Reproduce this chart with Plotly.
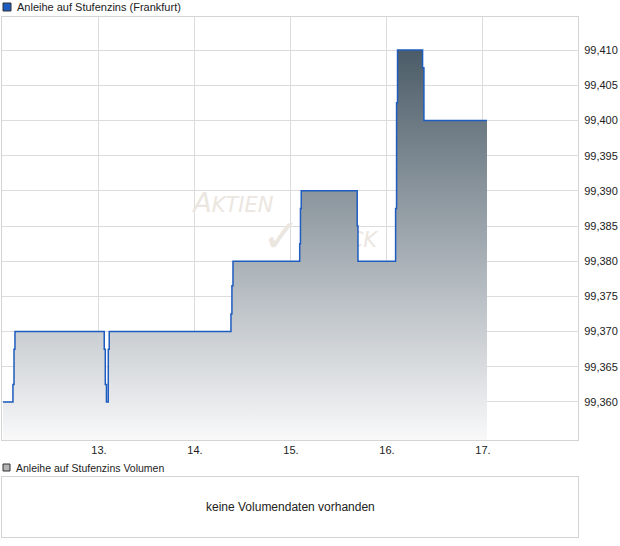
import plotly.graph_objects as go

W, H = 620, 546

# Kursverlauf (Tag als Dezimalzahl, Kurs)
days = [12.00, 12.104, 12.115, 12.125, 13.055, 13.066, 13.078, 13.097, 13.107,
        14.375, 14.385, 14.396, 15.091, 15.099, 15.107, 15.690, 15.698,
        16.090, 16.100, 16.110, 16.371, 16.385, 17.042]
prices = [99.360, 99.3625, 99.3675, 99.370, 99.3675, 99.3625, 99.360, 99.3675, 99.370,
          99.3725, 99.3765, 99.380, 99.3825, 99.3875, 99.390, 99.385, 99.380,
          99.3875, 99.4025, 99.410, 99.4075, 99.400, 99.400]

tick_days = [13, 14, 15, 16, 17]
tick_labels = ["13.", "14.", "15.", "16.", "17."]
price_ticks = [99.360, 99.365, 99.370, 99.375, 99.380, 99.385,
               99.390, 99.395, 99.400, 99.405, 99.410]

y_min, y_max = 99.3546, 99.4147
x_min, x_max = 11.99, 17.99

FONT = "Liberation Sans, Arial, sans-serif"


def px_x(p):
    return p / W


def px_y(p):
    return 1 - p / H


fig = go.Figure()

# Wasserzeichen (unter der Fläche)
fig.add_trace(go.Scatter(
    x=[14.40, 14.90, 15.50], y=[99.3880, 99.3830, 99.3830],
    mode="text",
    text=["<i>A<span style='font-size:21px'>KTIEN</span></i>", "✓",
          "<i>C<span style='font-size:21px'>HECK</span></i>"],
    textfont=dict(family="DejaVu Sans, sans-serif", size=[27, 46, 27],
                  color="#ebe6e0"),
    hoverinfo="skip", showlegend=False,
))

fig.add_trace(go.Scatter(
    x=days, y=prices,
    mode="lines", line=dict(color="#1f5cc0", width=1.5, shape="hv"),
    fill="tozeroy",
    fillgradient=dict(type="vertical",
                      colorscale=[[0, "#f9f9fa"], [1, "#4b5c68"]],
                      start=y_min, stop=99.410),
    showlegend=False,
))

# leeres Volumen-Panel
fig.add_trace(go.Scatter(
    x=[None], y=[None], xaxis="x2", yaxis="y2",
    mode="lines", hoverinfo="skip", showlegend=False,
))

fig.update_layout(
    width=W, height=H,
    margin=dict(l=0, r=0, t=0, b=0),
    paper_bgcolor="white", plot_bgcolor="white",
    separators=",.",
    font=dict(family=FONT, size=11, color="#222"),
    showlegend=False,
    xaxis=dict(
        domain=[px_x(2), px_x(578)], range=[x_min, x_max],
        tickvals=tick_days, ticktext=tick_labels,
        showgrid=True, gridcolor="#dcdcdc", gridwidth=1,
        showline=True, linecolor="#d4d4d4", mirror=True,
        zeroline=False, ticks="", automargin=False,
        tickfont=dict(size=11, color="#222"),
    ),
    yaxis=dict(
        domain=[px_y(440), px_y(17)], range=[y_min, y_max],
        side="right", tickvals=price_ticks, tickformat=".3f",
        showgrid=True, gridcolor="#dcdcdc", gridwidth=1,
        showline=True, linecolor="#d4d4d4", mirror=True,
        zeroline=False, ticks="", automargin=False,
        ticklabelstandoff=3,
        tickfont=dict(size=11, color="#222"),
    ),
    xaxis2=dict(
        domain=[px_x(2), px_x(578)], range=[0, 1], anchor="y2",
        showgrid=False, showticklabels=False, zeroline=False,
        showline=True, linecolor="#d4d4d4", mirror=True, fixedrange=True,
    ),
    yaxis2=dict(
        domain=[px_y(537), px_y(477)], range=[0, 1], anchor="x2",
        showgrid=False, showticklabels=False, zeroline=False,
        showline=True, linecolor="#d4d4d4", mirror=True, fixedrange=True,
    ),
)

# Legenden-Kästchen
fig.add_shape(type="rect", xref="paper", yref="paper",
              x0=px_x(3), x1=px_x(11), y0=px_y(11), y1=px_y(3),
              fillcolor="#1f5cc0", line=dict(color="#333", width=1))
fig.add_shape(type="rect", xref="paper", yref="paper",
              x0=px_x(3), x1=px_x(10), y0=px_y(471), y1=px_y(464),
              fillcolor="#b4b4b4", line=dict(color="#333", width=1))

fig.add_annotation(text="Anleihe auf Stufenzins (Frankfurt)",
                   xref="paper", yref="paper", x=px_x(15), y=px_y(7),
                   xanchor="left", yanchor="middle", showarrow=False,
                   font=dict(size=11, color="#222"))
fig.add_annotation(text="Anleihe auf Stufenzins Volumen",
                   xref="paper", yref="paper", x=px_x(14), y=px_y(468),
                   xanchor="left", yanchor="middle", showarrow=False,
                   font=dict(size=10.5, color="#222"))
fig.add_annotation(text="keine Volumendaten vorhanden",
                   xref="paper", yref="paper", x=px_x(290), y=px_y(507),
                   xanchor="center", yanchor="middle",
                   showarrow=False, font=dict(size=12, color="#222"))

fig.write_html("out.html", config={"displayModeBar": False},
               post_script="document.body.style.margin='0';")
